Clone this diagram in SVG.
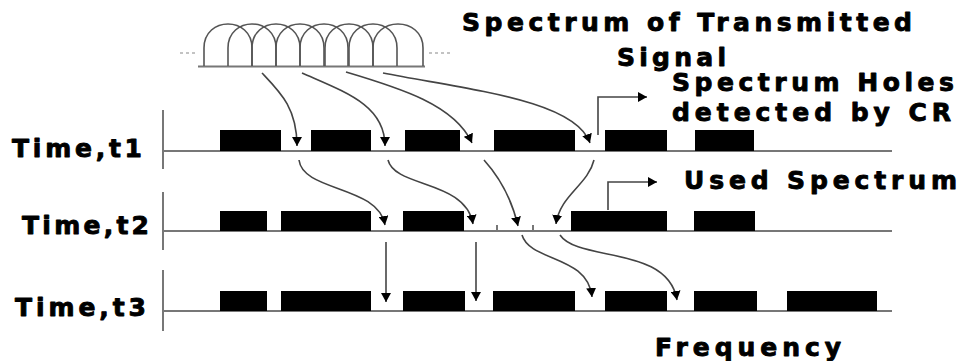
<svg xmlns="http://www.w3.org/2000/svg" width="960" height="361" viewBox="0 0 960 361">
<style>
.lbl{font-family:"DejaVu Sans","Liberation Sans",Arial,sans-serif;font-weight:bold;font-size:25px;fill:#000;stroke:#000;stroke-width:0.9;stroke-linejoin:round}
.axis{stroke:#777;stroke-width:2;fill:none}
.blk{fill:#000}
.con{stroke:#444;stroke-width:1.6;fill:none}
.arch{stroke:#555;stroke-width:1.6;fill:none}
.dash{stroke:#888;stroke-width:1.2;stroke-dasharray:3,3;fill:none}
</style>
<defs>
<marker id="ah" viewBox="0 0 9 10" refX="9" refY="5" markerWidth="9" markerHeight="10" markerUnits="userSpaceOnUse" orient="auto">
<path d="M0,0 L9,5 L0,10 z" fill="#000"/>
</marker>
</defs>
<rect width="960" height="361" fill="#fff"/>

<g id="spectrum">
<path class="dash" d="M180,53 H197 M429,53 H453"/>
<path class="axis" d="M198,66.5 H425" stroke-width="1.6"/>
<path class="arch" d="M204,66 V48 C204,16 252,16 252,48 V66"/>
<path class="arch" d="M228,66 V48 C228,16 276,16 276,48 V66"/>
<path class="arch" d="M252,66 V48 C252,16 300,16 300,48 V66"/>
<path class="arch" d="M276,66 V48 C276,16 324,16 324,48 V66"/>
<path class="arch" d="M300,66 V48 C300,16 348,16 348,48 V66"/>
<path class="arch" d="M325,66 V48 C325,16 373,16 373,48 V66"/>
<path class="arch" d="M349,66 V48 C349,16 397,16 397,48 V66"/>
<path class="arch" d="M373,66 V48 C373,16 423,16 423,48 V66"/>
</g>

<g id="axis-t1">
<path class="axis" d="M163,110 V169 M163,151 H892"/>
<rect class="blk" x="220" y="130" width="61" height="21"/>
<rect class="blk" x="311" y="130" width="60" height="21"/>
<rect class="blk" x="405" y="130" width="55" height="21"/>
<rect class="blk" x="494" y="130" width="81" height="21"/>
<rect class="blk" x="605" y="130" width="62" height="21"/>
<rect class="blk" x="695" y="130" width="59" height="21"/>
</g>

<g id="axis-t2">
<path class="axis" d="M163,192 V250 M163,231 H892"/>
<path class="axis" d="M497,225 V231 M533,225 V231" stroke-width="1.5"/>
<rect class="blk" x="220" y="211" width="47" height="20"/>
<rect class="blk" x="281" y="211" width="90" height="20"/>
<rect class="blk" x="403" y="211" width="61" height="20"/>
<rect class="blk" x="571" y="211" width="96" height="20"/>
<rect class="blk" x="694" y="211" width="61" height="20"/>
</g>

<g id="axis-t3">
<path class="axis" d="M163,270 V331 M163,311 H892"/>
<rect class="blk" x="220" y="291" width="47" height="20"/>
<rect class="blk" x="281" y="291" width="90" height="20"/>
<rect class="blk" x="403" y="291" width="62" height="20"/>
<rect class="blk" x="493" y="291" width="82" height="20"/>
<rect class="blk" x="605" y="291" width="62" height="20"/>
<rect class="blk" x="694" y="291" width="63" height="20"/>
<rect class="blk" x="787" y="291" width="90" height="20"/>
</g>

<g id="connectors">
<path class="con" marker-end="url(#ah)" d="M262,73 C280,92 297,108 297,146"/>
<path class="con" marker-end="url(#ah)" d="M302,73 C345,92 385,105 385,146"/>
<path class="con" marker-end="url(#ah)" d="M346,72 C400,88 455,105 472,143"/>
<path class="con" marker-end="url(#ah)" d="M383,73 C470,90 575,100 590,143"/>
<path class="con" marker-end="url(#ah)" d="M299,160 C303,192 378,185 385,225"/>
<path class="con" marker-end="url(#ah)" d="M388,160 C395,188 466,180 473,224"/>
<path class="con" marker-end="url(#ah)" d="M484,160 C502,180 512,200 518,226"/>
<path class="con" marker-end="url(#ah)" d="M594,160 C588,185 560,195 556,224"/>
<path class="con" marker-end="url(#ah)" d="M386,242 V302"/>
<path class="con" marker-end="url(#ah)" d="M476,242 V301"/>
<path class="con" marker-end="url(#ah)" d="M522,235 C530,262 588,255 592,297"/>
<path class="con" marker-end="url(#ah)" d="M560,235 C578,262 668,245 677,300"/>
<path class="con" marker-end="url(#ah)" d="M598,135 V97 H647"/>
<path class="con" marker-end="url(#ah)" d="M608,210 V182 H657"/>
</g>

<g id="labels">
<text class="lbl" x="462" y="31" textLength="450" lengthAdjust="spacing">Spectrum of Transmitted</text>
<text class="lbl" x="617" y="65.5" textLength="109" lengthAdjust="spacing">Signal</text>
<text class="lbl" x="672" y="90.5" textLength="282" lengthAdjust="spacing">Spectrum Holes</text>
<text class="lbl" x="672" y="120.5" textLength="279" lengthAdjust="spacing">detected by CR</text>
<text class="lbl" x="684" y="188.5" textLength="273" lengthAdjust="spacing">Used Spectrum</text>
<text class="lbl" x="655" y="355.5" textLength="186" lengthAdjust="spacing">Frequency</text>
<text class="lbl" x="12" y="156.5" textLength="130" lengthAdjust="spacing">Time,t1</text>
<text class="lbl" x="22" y="233.5" textLength="127" lengthAdjust="spacing">Time,t2</text>
<text class="lbl" x="15" y="315.5" textLength="131" lengthAdjust="spacing">Time,t3</text>
</g>
</svg>
